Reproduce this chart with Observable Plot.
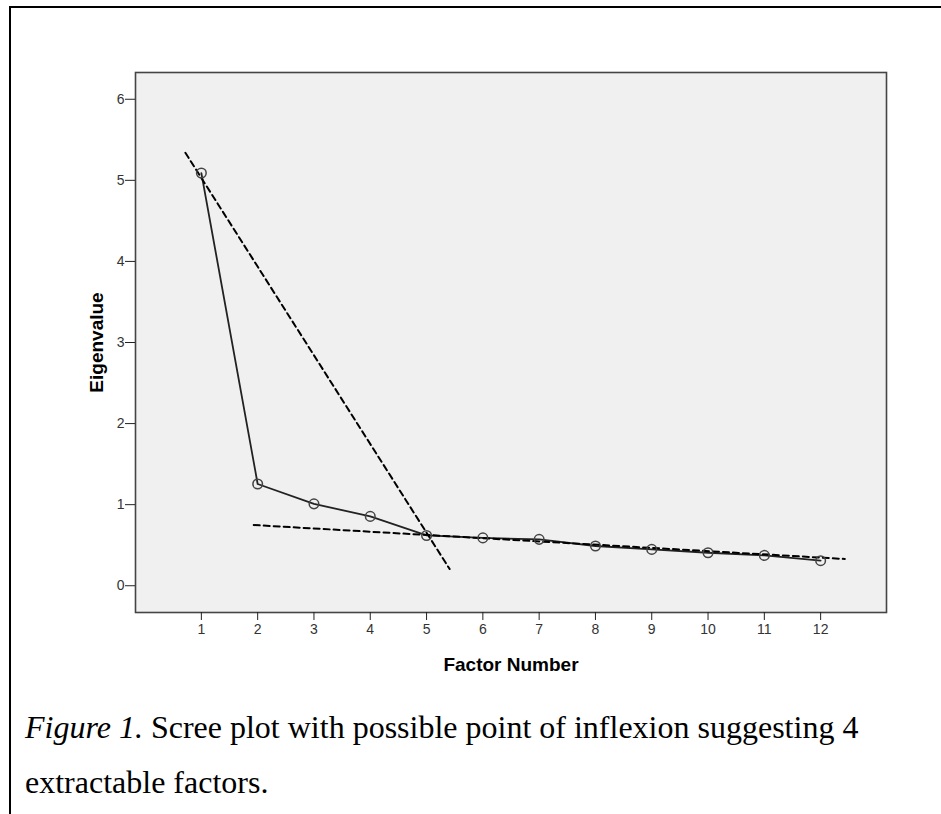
<!DOCTYPE html>
<html>
<head>
<meta charset="utf-8">
<script src="https://cdn.jsdelivr.net/npm/d3@7"></script>
<script src="https://cdn.jsdelivr.net/npm/@observablehq/plot@0.6"></script>
<style>
  html, body { margin: 0; padding: 0; background: #fff; }
  #wrap { position: relative; width: 941px; height: 814px; overflow: hidden; }
  #border { position: absolute; left: 9px; top: 6px; width: 960px; height: 900px;
            border-left: 2px solid #000; border-top: 2px solid #000; box-sizing: border-box; }
  #chart { position: absolute; left: 0; top: 0; }
  #chart g[aria-label$="tick label"], #chart g[aria-label$="tick label"] text { font-size: 14px; }
  #caption { position: absolute; left: 25px; top: 700px; width: 910px;
             font-family: "Liberation Serif", "Times New Roman", serif; font-size: 32px;
             line-height: 55px; color: #000; white-space: nowrap; }
</style>
</head>
<body>
<div id="wrap">
  <div id="border"></div>
  <div id="chart"></div>
  <div id="caption"><i>Figure 1.</i> Scree plot with possible point of inflexion suggesting 4<br>extractable factors.</div>
</div>
<script>
const factors = [1, 2, 3, 4, 5, 6, 7, 8, 9, 10, 11, 12];
const eigenvalues = [5.09, 1.255, 1.01, 0.855, 0.62, 0.59, 0.572, 0.49, 0.448, 0.407, 0.374, 0.309];
const xTicks = [1, 2, 3, 4, 5, 6, 7, 8, 9, 10, 11, 12];
const yTicks = [0, 1, 2, 3, 4, 5, 6];
// dashed guide lines (endpoints)
const steepX = [0.716, 5.41];
const steepY = [5.34, 0.206];
const flatX = [1.93, 12.43];
const flatY = [0.749, 0.33];

const pts = factors.map((f, i) => ({f, v: eigenvalues[i]}));
const steep = steepX.map((x, i) => ({x, y: steepY[i]}));
const flat = flatX.map((x, i) => ({x, y: flatY[i]}));

const chart = Plot.plot({
  width: 941,
  height: 690,
  marginLeft: 135,
  marginRight: 55,
  marginTop: 72,
  marginBottom: 78,
  style: {fontFamily: "Arial, 'Liberation Sans', sans-serif", fontSize: "14px", background: "transparent", overflow: "visible"},
  x: {domain: [-0.17, 13.17]},
  y: {domain: [-0.33, 6.33]},
  marks: [
    Plot.frame({fill: "#f0f0f0", stroke: "none"}),
    Plot.lineY(pts, {x: "f", y: "v", stroke: "#222", strokeWidth: 1.8}),
    Plot.line(steep, {x: "x", y: "y", stroke: "#000", strokeWidth: 2, strokeDasharray: "6,4"}),
    Plot.line(flat, {x: "x", y: "y", stroke: "#000", strokeWidth: 2, strokeDasharray: "6,4"}),
    Plot.dot(pts, {x: "f", y: "v", r: 4.8, stroke: "#444", strokeWidth: 1.5, fill: "none"}),
    Plot.frame({stroke: "#444", strokeWidth: 1.6}),
    Plot.axisY(yTicks, {tickSize: 10, tickPadding: 1, fontSize: 14, tickFormat: "d", color: "#333", label: null, stroke: "#222"}),
    Plot.axisX(xTicks, {tickSize: 8, tickPadding: 4, fontSize: 14, tickFormat: "d", color: "#333", label: null, stroke: "#222"}),
    Plot.text(["Eigenvalue"], {frameAnchor: "left", dx: -39, rotate: -90, textAnchor: "middle", lineAnchor: "middle", fontSize: 19, fontWeight: "bold", fill: "#000"}),
    Plot.text(["Factor Number"], {frameAnchor: "bottom", dy: 52, textAnchor: "middle", lineAnchor: "middle", fontSize: 19, fontWeight: "bold", fill: "#000"})
  ]
});
document.getElementById("chart").appendChild(chart);
</script>
</body>
</html>
